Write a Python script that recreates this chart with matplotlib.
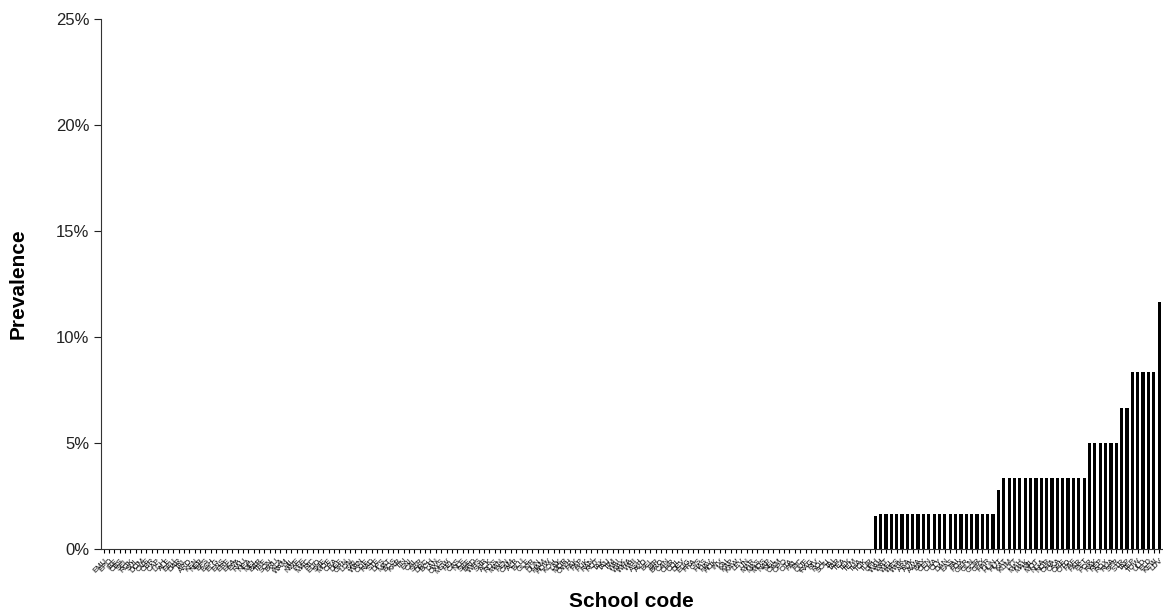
import numpy as np
import matplotlib
matplotlib.use("Agg")
import matplotlib.pyplot as plt
from matplotlib.ticker import PercentFormatter

plt.rcParams['font.family'] = ['Liberation Sans', 'DejaVu Sans']

# school codes (tick labels are too small to read in the source; 3-letter codes)
codes = """EMU EPO IBE CBS SEL ROK SUL DOM OVE CBR CAP LCH ALE EBU
DAR TAL ARO KEN NEB BFS BSH ELG ENS ERE EKA EVA RAU NEA
MEL BAR TRE SON BRU KLA WAM HIL NWE PFE MAC RIC EDO SHE
MOE CRA DEF GRN LON SAL WAN ODE RAD STE DPS MAT BOS KAR
TIN ENI CAL SBR DRC BCH LAN OWS MSW FEL CAS NLE SBE BRD
WHS SHR ACK ROS MAN PEN CAM ALB BLU GLE KIR DUN HAM HOW
KOH LAK MOR OWH PAK PAP PUK RAN ROT TAK TAU TIM WAI WAK
WHA WHI ASH AVO BEL BIR BRO CAN CHR COL DEV EDG FRA GIS
HAS HAV HOK INV KAI KAP KAW LEV LIN MAR MAS MOS NAP NEL
OAM OPO OTA PAL PIC QUE RAG RIV ROL SOU TAI TAR TEA TEK
TEM THA TOK TUR UPH WAH WAT WEL WES WHK ARA AUK AWA BAY
CEN CHA CLY DAN EAS FAI FOX GER GLN GOR GRY HAR HUN HUT
KAT KUM LYT MAH MAK MIL MOT NGA NOR OHA OKA ORE OTO PAE
PAR PET POR RAK REP ROX RUA SPR STR TAP TEP TOW ULD ELD
KEW LDV""".split()

# prevalence (%) per school, sorted ascending
n_zero = 144
prevalence = [0.0] * n_zero + [1.57] + [1.67] * 22 + [2.78] + [3.33] * 16 \
    + [4.98] + [5.0] * 5 + [6.67] * 2 + [8.33] * 5 + [11.67]

fig = plt.figure(figsize=(11.63, 6.12), dpi=100)
ax = fig.add_axes([0.0868, 0.103, 0.9122, 0.866])

x = np.arange(len(prevalence))
ax.bar(x, prevalence, width=0.6, color='black', edgecolor='black', linewidth=0)

ax.set_xlim(-0.5, len(prevalence) - 0.5)
ax.set_ylim(0, 25)
ax.set_yticks([0, 5, 10, 15, 20, 25])
ax.yaxis.set_major_formatter(PercentFormatter(decimals=0))
ax.tick_params(axis='y', labelsize=12, length=5, direction='out', colors='#222222')
ax.set_xticks(x)
ax.set_xticklabels(codes[:len(prevalence)], rotation=45, ha='right',
                   rotation_mode='anchor', fontsize=5.5, color='black')
ax.tick_params(axis='x', length=3, direction='out', pad=3)

for s in ['top', 'right']:
    ax.spines[s].set_visible(False)
ax.spines['left'].set_color('#333333')
ax.spines['bottom'].set_color('#333333')

ax.set_ylabel('Prevalence', fontsize=15, fontweight='bold', labelpad=20)
ax.set_xlabel('School code', fontsize=15, fontweight='bold', labelpad=12)

fig.savefig('out.png', dpi=100)
